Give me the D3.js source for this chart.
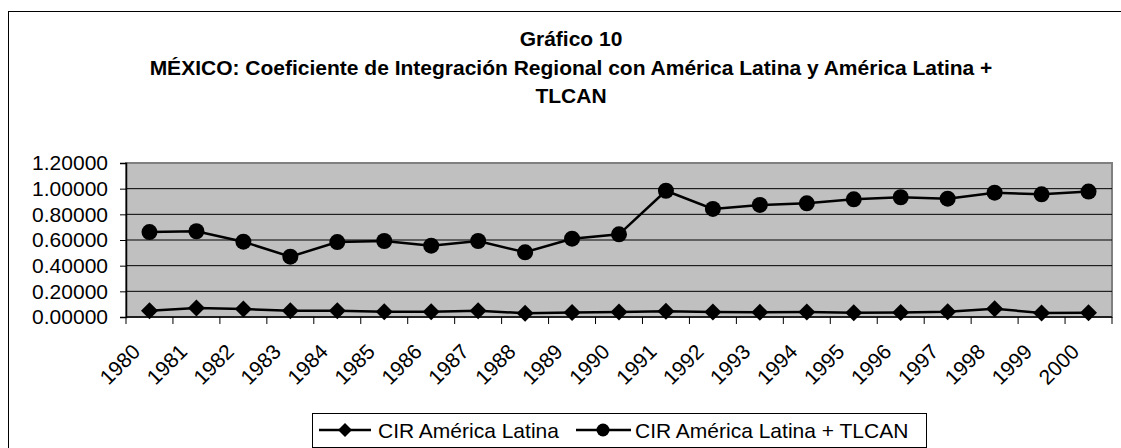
<!DOCTYPE html>
<html>
<head>
<meta charset="utf-8">
<script src="https://cdn.jsdelivr.net/npm/d3@7"></script>
<style>
  html, body { margin: 0; padding: 0; background: #fff; }
  svg { display: block; font-family: "Liberation Sans", Arial, sans-serif; }
</style>
</head>
<body>
<svg id="chart" width="1121" height="448"></svg>
<script>
const years = ["1980","1981","1982","1983","1984","1985","1986","1987","1988","1989","1990",
               "1991","1992","1993","1994","1995","1996","1997","1998","1999","2000"];
const cirAL = [0.049,0.070,0.062,0.049,0.049,0.041,0.041,0.049,0.029,0.036,0.039,
               0.044,0.039,0.037,0.039,0.034,0.036,0.041,0.065,0.031,0.034];
const cirALTLCAN = [0.662,0.668,0.587,0.470,0.584,0.592,0.556,0.592,0.504,0.610,0.644,
                    0.984,0.842,0.873,0.886,0.917,0.933,0.922,0.969,0.956,0.977];
const yTicks = [0, 0.2, 0.4, 0.6, 0.8, 1.0, 1.2];
const titleLines = ["Gráfico 10",
  "MÉXICO: Coeficiente de Integración Regional con América Latina y América Latina +",
  "TLCAN"];
const seriesNames = ["CIR América Latina", "CIR América Latina + TLCAN"];

(function () {
const svg = d3.select("#chart");
const FS = 21;

// outer chart frame
svg.append("rect").attr("x", 8.5).attr("y", 11.5).attr("width", 1130).attr("height", 460)
  .attr("fill", "#fff").attr("stroke", "#000").attr("stroke-width", 1);

// title
const titleY = [46, 75, 103];
titleLines.forEach((t, i) => {
  svg.append("text").attr("x", 571).attr("y", titleY[i]).attr("text-anchor", "middle")
    .attr("font-size", FS).attr("font-weight", "bold").attr("fill", "#000").text(t);
});

const pL = 126, pR = 1112, pT = 163, pB = 317;
const x = d3.scaleBand().domain(years).range([pL, pR]).padding(0);
const y = d3.scaleLinear().domain([0, 1.2]).range([pB, pT]);
const cx = d => x(d) + x.bandwidth() / 2;

// plot area
svg.append("rect").attr("x", pL).attr("y", pT).attr("width", pR - pL).attr("height", pB - pT)
  .attr("fill", "#c0c0c0").attr("stroke", "#808080").attr("stroke-width", 2);

// gridlines
svg.append("g").selectAll("line").data(yTicks.filter(v => v > 0 && v < 1.2)).join("line")
  .attr("x1", pL).attr("x2", pR).attr("y1", d => y(d)).attr("y2", d => y(d))
  .attr("stroke", "#000").attr("stroke-width", 1);

// y axis
const yAxis = d3.axisLeft(y).tickValues(yTicks).tickFormat(d3.format(".5f")).tickSize(6).tickPadding(12);
const gy = svg.append("g").attr("transform", `translate(${pL},0)`).call(yAxis);
gy.select(".domain").attr("stroke", "#000").attr("stroke-width", 1.5);
gy.selectAll(".tick line").attr("stroke", "#000");
gy.selectAll(".tick text").attr("font-size", FS).attr("font-family", "Liberation Sans, Arial, sans-serif").attr("fill", "#000");

// x axis: ticks at category boundaries
const bounds = years.map(d => x(d)).concat([pR]);
svg.append("line").attr("x1", pL).attr("x2", pR).attr("y1", pB).attr("y2", pB)
  .attr("stroke", "#000").attr("stroke-width", 1.5);
svg.append("g").selectAll("line").data(bounds).join("line")
  .attr("x1", d => d).attr("x2", d => d).attr("y1", pB).attr("y2", pB + 7)
  .attr("stroke", "#000").attr("stroke-width", 1);
svg.append("g").selectAll("text").data(years).join("text")
  .attr("transform", d => `translate(${cx(d) - 8},${353}) rotate(-45)`)
  .attr("text-anchor", "end").attr("font-size", FS).attr("fill", "#000").text(d => d);

// lines
const line = d3.line().x((d, i) => cx(years[i])).y(d => y(d));
svg.append("path").datum(cirALTLCAN).attr("d", line).attr("fill", "none").attr("stroke", "#000").attr("stroke-width", 2.5);
svg.append("path").datum(cirAL).attr("d", line).attr("fill", "none").attr("stroke", "#000").attr("stroke-width", 2.5);

const diamond = (px, py, r) => `M${px},${py - r}L${px + r},${py}L${px},${py + r}L${px - r},${py}Z`;
svg.append("g").selectAll("circle").data(cirALTLCAN).join("circle")
  .attr("cx", (d, i) => cx(years[i])).attr("cy", d => y(d)).attr("r", 8).attr("fill", "#000");
svg.append("g").selectAll("path").data(cirAL).join("path")
  .attr("d", (d, i) => diamond(cx(years[i]), y(d), 8.5)).attr("fill", "#000");

// legend
svg.append("rect").attr("x", 312.5).attr("y", 413.5).attr("width", 614).attr("height", 34)
  .attr("fill", "#fff").attr("stroke", "#000").attr("stroke-width", 1);
const ly = 430;
svg.append("line").attr("x1", 319).attr("x2", 371).attr("y1", ly).attr("y2", ly).attr("stroke", "#000").attr("stroke-width", 2.5);
svg.append("path").attr("d", diamond(345, ly, 7)).attr("fill", "#000");
svg.append("text").attr("x", 378).attr("y", ly + 7.5).attr("font-size", FS).attr("fill", "#000").text(seriesNames[0]);
svg.append("line").attr("x1", 576).attr("x2", 631).attr("y1", ly).attr("y2", ly).attr("stroke", "#000").attr("stroke-width", 2.5);
svg.append("circle").attr("cx", 603).attr("cy", ly).attr("r", 6.5).attr("fill", "#000");
svg.append("text").attr("x", 635).attr("y", ly + 7.5).attr("font-size", FS).attr("fill", "#000").text(seriesNames[1]);
})();
</script>
</body>
</html>
